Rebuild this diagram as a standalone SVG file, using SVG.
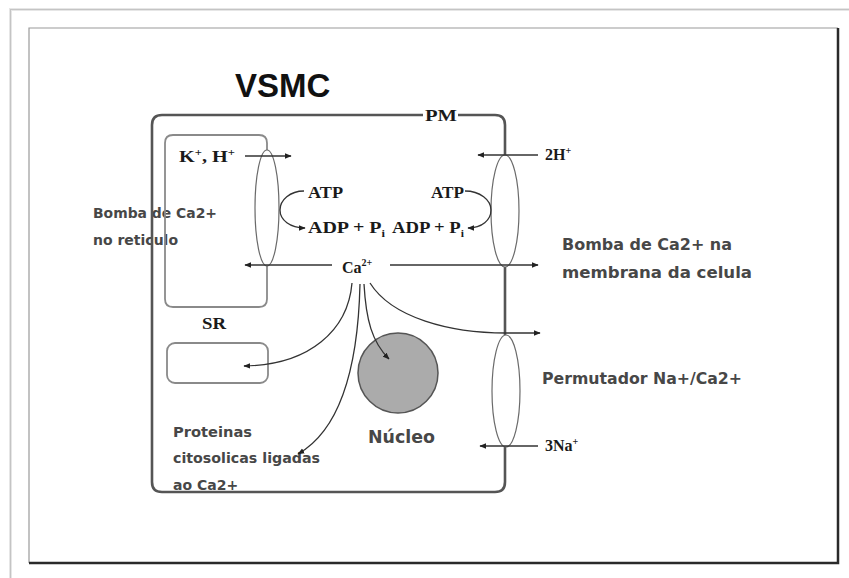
<svg xmlns="http://www.w3.org/2000/svg" width="849" height="578" viewBox="0 0 849 578">
<defs>
<marker id="ah" viewBox="0 0 10 10" refX="9" refY="5" markerWidth="7" markerHeight="7" markerUnits="userSpaceOnUse" orient="auto">
<path d="M0,1 L10,5 L0,9 Z" fill="#222"/>
</marker>
<style>
.serif{font-family:"Liberation Serif","Times New Roman",serif;font-weight:bold;font-size:16px;fill:#1a1a1a}
.lab{font-family:"DejaVu Sans",Verdana,sans-serif;font-weight:bold;fill:#474747}
.lab14{font-size:14px}
.lab16{font-size:16px}
.con{fill:none;stroke:#333;stroke-width:1.3}
.arr{marker-end:url(#ah)}
.ell{fill:none;stroke:#6a6a6a;stroke-width:1.2}
</style>
</defs>
<rect width="849" height="578" fill="#fff"/>
<g id="card">
<rect x="10.5" y="9.5" width="850" height="580" fill="none" stroke="#e6e6e6" stroke-width="3"/>
<rect x="10.5" y="9.5" width="850" height="580" fill="none" stroke="#c4c4c4" stroke-width="1"/>
</g>
<g id="frame">
<path d="M29,563 L29,28 L838,28" fill="none" stroke="#9a9a9a" stroke-width="1.2"/>
<path d="M838,28 L838,563 L29,563" fill="none" stroke="#2a2a2a" stroke-width="2.5"/>
</g>
<g id="title"><text x="235" y="97" font-family="Liberation Sans, Arial, sans-serif" font-weight="bold" font-size="33" fill="#111">VSMC</text></g>

<g id="label-proteinas">
<text class="lab lab14" x="173" y="437" textLength="79" lengthAdjust="spacingAndGlyphs">Proteinas</text>
<text class="lab lab14" x="173" y="463" textLength="147" lengthAdjust="spacingAndGlyphs">citosolicas ligadas</text>
<text class="lab lab14" x="173" y="490">ao Ca2+</text>
</g>
<g id="label-bomba-reticulo">
<text class="lab lab14" x="93" y="218" textLength="124" lengthAdjust="spacingAndGlyphs">Bomba de Ca2+</text>
<text class="lab lab14" x="93" y="245">no reticulo</text>
</g>

<g id="pm">
<path d="M423,115 L162,115 Q152,115 152,125 L152,482 Q152,492 162,492 L495,492 Q505,492 505,482 L505,447 M505,335 L505,267 M505,155 L505,125 Q505,115 495,115 L458,115" fill="none" stroke="#555" stroke-width="2.6"/>
<text class="serif" x="425" y="121" textLength="32" lengthAdjust="spacingAndGlyphs">PM</text>
</g>
<g id="sr">
<path d="M267,150 L267,143 Q267,135 259,135 L173,135 Q165,135 165,143 L165,299 Q165,307 173,307 L259,307 Q267,307 267,299 L267,266" fill="none" stroke="#8a8a8a" stroke-width="1.8"/>
<text class="serif" x="202" y="329" textLength="24" lengthAdjust="spacingAndGlyphs">SR</text>
</g>
<g id="protein-box"><rect x="167" y="343" width="101" height="40" rx="8" fill="none" stroke="#8a8a8a" stroke-width="1.8"/></g>
<g id="nucleus">
<circle cx="398" cy="373" r="40" fill="#ababab" stroke="#555" stroke-width="1.5"/>
<text class="lab" x="368" y="443" font-size="17" textLength="67" lengthAdjust="spacingAndGlyphs">Núcleo</text>
</g>
<g id="sr-pump"><ellipse class="ell" cx="267" cy="208" rx="12" ry="58"/></g>
<g id="pm-pump"><ellipse class="ell" cx="505" cy="211" rx="14" ry="56"/></g>
<g id="exchanger"><ellipse class="ell" cx="506" cy="391" rx="14" ry="56"/></g>

<g id="ions">
<text class="serif" x="179" y="162" font-size="17" textLength="56" lengthAdjust="spacingAndGlyphs">K<tspan dy="-6" font-size="10">+</tspan><tspan dy="6">, H</tspan><tspan dy="-6" font-size="10">+</tspan></text>
<text class="serif" x="308" y="198" textLength="35" lengthAdjust="spacingAndGlyphs">ATP</text>
<text class="serif" x="308" y="233" textLength="77" lengthAdjust="spacingAndGlyphs">ADP + P<tspan dy="4" font-size="10">i</tspan></text>
<text class="serif" x="431" y="198" textLength="33" lengthAdjust="spacingAndGlyphs">ATP</text>
<text class="serif" x="392" y="233" textLength="72" lengthAdjust="spacingAndGlyphs">ADP + P<tspan dy="4" font-size="10">i</tspan></text>
<text class="serif" x="342" y="273" font-size="17">Ca<tspan dy="-7" font-size="10">2+</tspan></text>
<text class="serif" x="545" y="160" font-size="16">2H<tspan dy="-6" font-size="10">+</tspan></text>
<text class="serif" x="545" y="451" font-size="16">3Na<tspan dy="-6" font-size="10">+</tspan></text>
</g>
<g id="labels-right">
<text class="lab lab16" x="562" y="250" textLength="170" lengthAdjust="spacingAndGlyphs">Bomba de Ca2+ na</text>
<text class="lab lab16" x="562" y="278" textLength="190" lengthAdjust="spacingAndGlyphs">membrana da celula</text>
<text class="lab lab16" x="542" y="384" textLength="200" lengthAdjust="spacingAndGlyphs">Permutador Na+/Ca2+</text>
</g>

<g id="connectors">
<path class="con arr" d="M245,156 L291,156"/>
<path class="con arr" d="M538,155 L478,155"/>
<path class="con arr" d="M332,265 L245,265"/>
<path class="con arr" d="M390,265 L538,265"/>
<path class="con arr" d="M304,191 C290,191 280,200 280,210 C280,220 290,228 305,228"/>
<path class="con arr" d="M465,191 C480,191 491,200 491,210 C491,220 482,228 468,228"/>
<path class="con arr" d="M352,283 C348,330 310,365 244,366"/>
<path class="con arr" d="M360,284 C358,370 340,430 298,454"/>
<path class="con arr" d="M364,284 C366,320 372,342 389,359"/>
<path class="con arr" d="M370,283 C392,318 450,333 506,333 L540,333"/>
<path class="con arr" d="M538,446 L480,446"/>
</g>
</svg>
